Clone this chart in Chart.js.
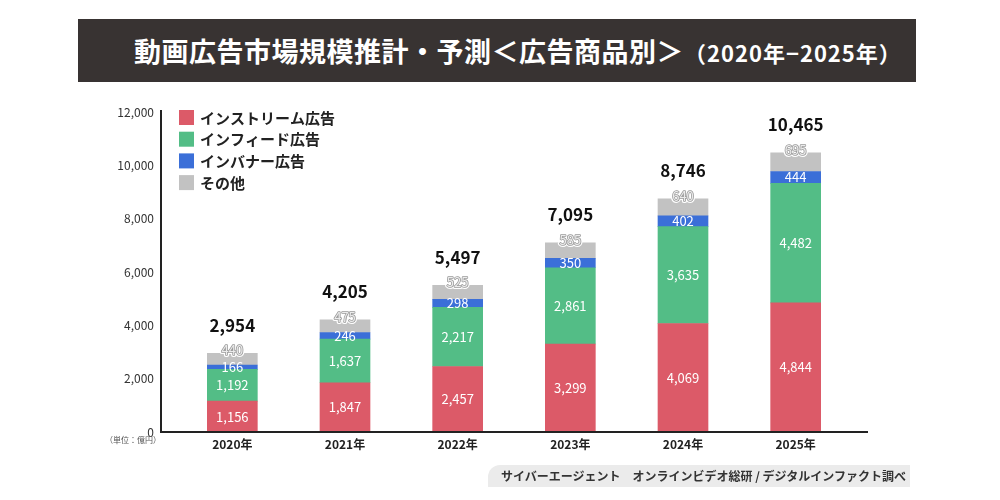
<!DOCTYPE html>
<html lang="ja">
<head>
<meta charset="utf-8">
<script src="https://cdn.jsdelivr.net/npm/chart.js@4.4.1/dist/chart.umd.min.js"></script>
<style>
  html, body { margin: 0; padding: 0; background: #fff; }
  #wrap { position: relative; width: 1000px; height: 500px; font-family: "Noto Sans CJK JP", sans-serif; }
  #chart { position: absolute; left: 0; top: 0; }
  #banner {
    position: absolute; left: 78px; top: 19px; width: 838px; height: 63px;
    background: #383332; color: #fff; font-weight: bold; font-size: 27px;
    line-height: 63px; white-space: nowrap; box-sizing: border-box; padding-left: 56px;
    letter-spacing: 0.5px;
  }
  #banner .years { font-size: 22px; letter-spacing: 1px; }
  #source {
    position: absolute; left: 488px; top: 465px; width: 422px; height: 22px;
    background: #ebebeb; border-top-left-radius: 12px; box-sizing: border-box;
    padding-left: 13px; font-size: 12px; font-weight: bold; color: #333;
    line-height: 22px; white-space: nowrap;
  }
</style>
</head>
<body>
<div id="wrap">
  <canvas id="chart" width="1000" height="500"></canvas>
  <div id="banner">動画広告市場規模推計・予測＜広告商品別＞<span class="years">（2020年−2025年）</span></div>
  <div id="source">サイバーエージェント　オンラインビデオ総研 / デジタルインファクト調べ</div>
</div>
<script>
const years = ['2020年', '2021年', '2022年', '2023年', '2024年', '2025年']
const instream = [1156, 1847, 2457, 3299, 4069, 4844]
const infeed = [1192, 1637, 2217, 2861, 3635, 4482]
const bannerAds = [166, 246, 298, 350, 402, 444]
const other = [440, 475, 525, 585, 640, 695]
const totals = [2954, 4205, 5497, 7095, 8746, 10465]
const seriesNames = ['インストリーム広告', 'インフィード広告', 'インバナー広告', 'その他']
const colors = ['#dc5a68', '#53bd86', '#3b6fd8', '#c2c2c2']

const FONT = '"Noto Sans CJK JP", sans-serif'
const fmt = v => v.toLocaleString('en-US')

const decor = {
  id: 'decor',
  afterDatasetsDraw(chart) {
    const ctx = chart.ctx
    const area = chart.chartArea
    ctx.save()

    // axis lines, a little wider than the category band
    ctx.strokeStyle = '#222'
    ctx.lineWidth = 2
    ctx.beginPath()
    ctx.moveTo(area.left - 15, area.top - 2)
    ctx.lineTo(area.left - 15, area.bottom)
    ctx.lineTo(area.right + 16, area.bottom)
    ctx.stroke()

    // unit note under the 0 tick
    ctx.fillStyle = '#555'
    ctx.font = '8px ' + FONT
    ctx.textAlign = 'center'
    ctx.textBaseline = 'middle'
    ctx.fillText('（単位：億円）', area.left - 43, area.bottom + 8)

    // segment labels
    chart.data.datasets.forEach((ds, di) => {
      const meta = chart.getDatasetMeta(di)
      meta.data.forEach((bar, i) => {
        const v = ds.data[i]
        ctx.font = '13px ' + FONT
        ctx.textAlign = 'center'
        ctx.textBaseline = 'middle'
        ctx.lineJoin = 'round'
        if (di === 3) {
          const y = bar.y - 3
          ctx.lineWidth = 4
          ctx.strokeStyle = '#fff'
          ctx.strokeText(fmt(v), bar.x, y)
          ctx.lineWidth = 1.6
          ctx.strokeStyle = '#9a9a9a'
          ctx.strokeText(fmt(v), bar.x, y)
          ctx.fillStyle = '#ececec'
          ctx.fillText(fmt(v), bar.x, y)
        } else {
          ctx.fillStyle = '#fff'
          ctx.fillText(fmt(v), bar.x, (bar.y + bar.base) / 2)
        }
      })
    })

    // totals above the stacks
    const top = chart.getDatasetMeta(3)
    ctx.fillStyle = '#111'
    ctx.font = 'bold 17px ' + FONT
    top.data.forEach((bar, i) => {
      ctx.fillText(fmt(totals[i]), bar.x, bar.y - 28)
    })

    // legend inside the plot
    chart.data.datasets.forEach((ds, di) => {
      const x = area.left + 3
      const y = area.top - 2 + di * 21.7
      ctx.fillStyle = ds.backgroundColor
      ctx.fillRect(x, y, 15, 15)
      ctx.fillStyle = '#222'
      ctx.font = 'bold 15px ' + FONT
      ctx.textAlign = 'left'
      ctx.fillText(ds.label, x + 21, y + 8)
    })

    ctx.restore()
  }
}

const data = [instream, infeed, bannerAds, other]

new Chart(document.getElementById('chart'), {
  type: 'bar',
  data: {
    labels: years,
    datasets: data.map((d, i) => ({
      label: seriesNames[i],
      data: d,
      backgroundColor: colors[i],
      borderWidth: 0,
      barThickness: 50
    }))
  },
  options: {
    responsive: false,
    animation: false,
    layout: { padding: { left: 116, right: 148, top: 112, bottom: 38 } },
    plugins: {
      legend: { display: false },
      tooltip: { enabled: false }
    },
    scales: {
      x: {
        stacked: true,
        grid: { display: false, drawTicks: false },
        border: { display: false },
        ticks: { color: '#222', font: { family: FONT, size: 12, weight: 'bold' }, padding: 5 },
        afterFit(scale) { scale.height = 30 }
      },
      y: {
        stacked: true,
        min: 0,
        max: 12000,
        grid: { display: false, drawTicks: false },
        border: { display: false },
        ticks: {
          stepSize: 2000,
          color: '#333',
          font: { family: FONT, size: 12 },
          padding: 22,
          callback: v => fmt(v)
        },
        afterFit(scale) { scale.width = 60 }
      }
    }
  },
  plugins: [decor]
})
</script>
</body>
</html>
